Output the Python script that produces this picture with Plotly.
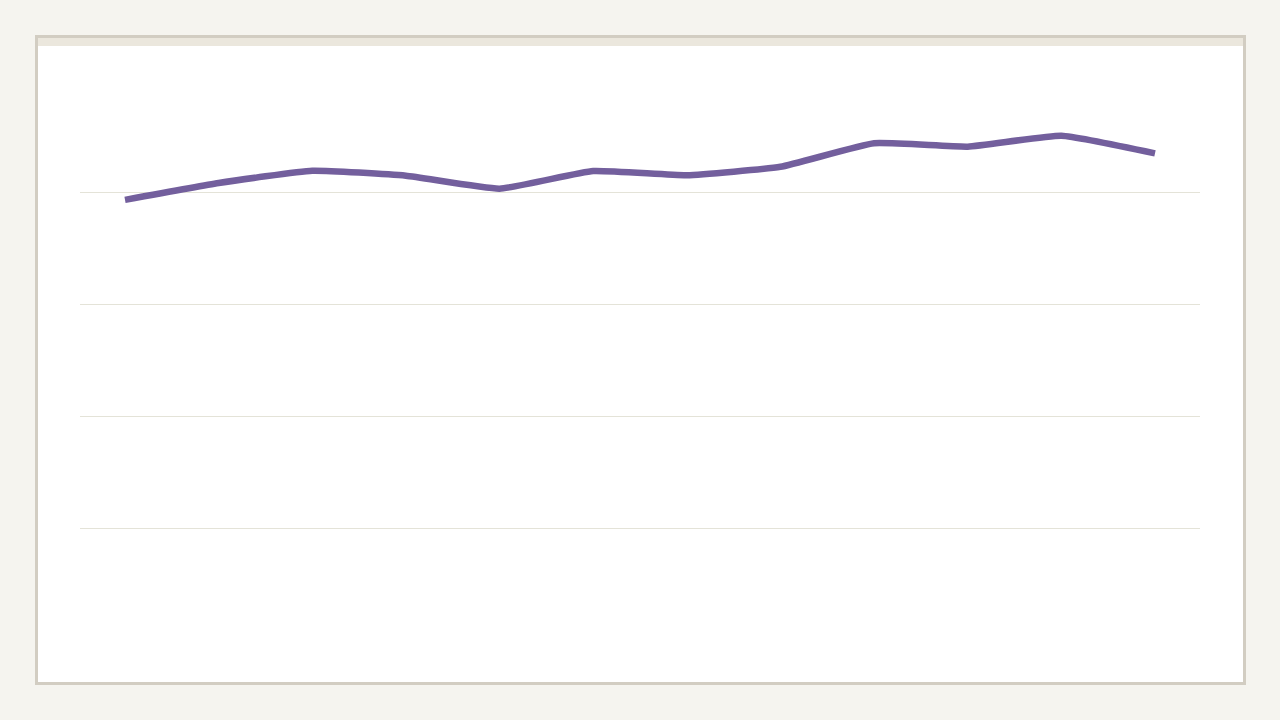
import plotly.graph_objects as go

categories = ["Jan", "Feb", "Mar", "Apr", "May", "Jun",
              "Jul", "Aug", "Sep", "Oct", "Nov", "Dec"]
values = [78.6, 81.6, 83.8, 82.9, 80.6, 83.75, 83.0, 84.5, 88.7, 88.1, 90.05, 86.9]
grid_vals = [20, 40, 60, 80]

W, H = 1280, 720
L, R, T, B = 80, 80, 80, 80
PW, PH = W - L - R, H - T - B


def px(x):
    return (x - L) / PW


def py(y):
    return (H - B - y) / PH


fig = go.Figure()
fig.add_trace(go.Scatter(
    x=categories, y=values, mode="lines",
    line=dict(color="#735f9d", width=6.5, shape="spline", smoothing=0.4),
    hoverinfo="x+y", showlegend=False,
))

shapes = [
    # card
    dict(type="rect", xref="paper", yref="paper", layer="below",
         x0=px(36.5), x1=px(1244.5), y0=py(683.5), y1=py(36.5),
         fillcolor="#ffffff", line=dict(color="#d2cdc2", width=3)),
    # top strip
    dict(type="rect", xref="paper", yref="paper", layer="below",
         x0=px(38), x1=px(1243), y0=py(46), y1=py(38),
         fillcolor="#ebe7dd", line=dict(width=0)),
]

fig.update_layout(
    width=W, height=H,
    margin=dict(l=L, r=R, t=T, b=B),
    paper_bgcolor="#f5f4ef",
    plot_bgcolor="rgba(0,0,0,0)",
    shapes=shapes,
    xaxis=dict(range=[-0.4806, 11.4806], showgrid=False, zeroline=False,
               showticklabels=False, showline=False, ticks=""),
    yaxis=dict(range=[0, 100], tickvals=grid_vals, showgrid=True,
               gridcolor="#e4e3d8", gridwidth=1, zeroline=False,
               showticklabels=False, showline=False, ticks=""),
)

fig.write_html(
    "out.html",
    config={"displayModeBar": False},
    post_script="document.body.style.margin='0';document.body.style.background='#f5f4ef';document.body.style.overflow='hidden';",
)
